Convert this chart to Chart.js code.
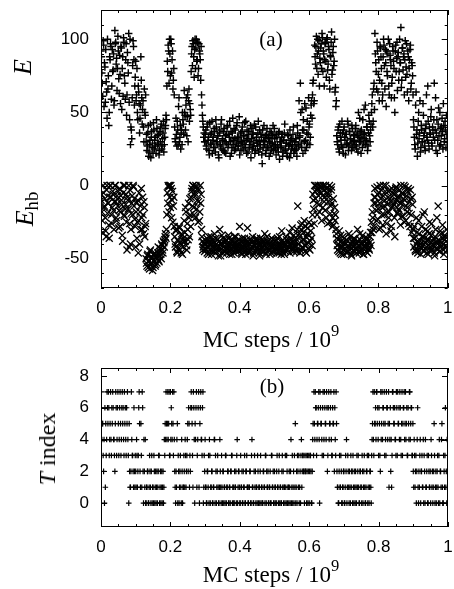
<!DOCTYPE html>
<html>
<head>
<meta charset="utf-8">
<script src="https://cdn.jsdelivr.net/npm/chart.js@4.4.1/dist/chart.umd.min.js"></script>
<style>
  html, body { margin: 0; padding: 0; background: #fff; }
  #wrap { position: relative; width: 454px; height: 589px; overflow: hidden;
          font-family: "Liberation Serif", "Times New Roman", serif; color: #000; }
  canvas { position: absolute; left: 0; }
  .lbl { position: absolute; white-space: nowrap; line-height: 1;
         transform: translate(-50%, -50%); }
  .rot { transform: translate(-50%, -50%) rotate(-90deg); }
  sup { font-size: 0.72em; line-height: 0; vertical-align: 0.62em; }
  sub { font-size: 0.72em; line-height: 0; vertical-align: -0.25em; font-style: normal; }
</style>
</head>
<body>
<div id="wrap">
  <canvas id="energyChart" width="454" height="345" style="top:0;width:454px;height:345px"></canvas>
  <canvas id="tempChart" width="454" height="244" style="top:345px;width:454px;height:244px"></canvas>

  <div class="lbl rot" style="left:23px;top:67px;font-size:26px;font-style:italic">E</div>
  <div class="lbl rot" style="left:25px;top:209px;font-size:26px;font-style:italic">E<sub>hb</sub></div>
  <div class="lbl" style="left:271px;top:39px;font-size:21px">(a)</div>
  <div class="lbl" style="left:271px;top:339px;font-size:23px">MC steps / 10<sup>9</sup></div>

  <div class="lbl rot" style="left:47px;top:449px;font-size:24px"><i>T</i> index</div>
  <div class="lbl" style="left:272px;top:386px;font-size:21px">(b)</div>
  <div class="lbl" style="left:271px;top:574px;font-size:23px">MC steps / 10<sup>9</sup></div>
</div>

<script>
// Samples stored every 0.0025 x 10^9 MC steps (400 per run); a second set of
// samples sits half a step later (the *Mid arrays).
const sampleStep = 0.0025;

// Total energy E of each stored conformation
const energy = [
  92, 77, 61, 96, 84, 57, 71, 46, 66, 41, 88, 97, 59, 93, 79, 55, 106, 98, 87, 80,
  92, 63, 76, 95, 52, 88, 101, 75, 59, 97, 62, 84, 104, 45, 28, 38, 60, 99, 86, 68,
  85, 62, 50, 68, 56, 46, 88, 60, 52, 40, 66, 48,
  30, 24, 36, 20, 28, 42, 33, 26, 22, 38, 31, 27, 45, 34, 29, 21, 37, 40, 25, 32, 44, 28, 39, 48,
  68, 78, 92, 100, 75, 97, 86, 66, 80,
  40, 30, 35, 44, 28, 60, 33, 25, 38, 50, 42,
  65, 48, 55, 34, 62, 58, 44, 52,
  78, 95, 99, 88, 93, 80, 100, 86, 75, 97, 90, 72,
  62, 48, 40, 36,
  30, 38, 25, 42, 33, 21, 35, 28, 44, 31, 26, 37, 23, 40, 29, 34, 19, 36, 27, 45,
  32, 24, 39, 30, 22, 35, 41, 28, 33, 20, 37, 26, 46, 31, 24, 38, 29, 43, 27, 33,
  21, 36, 30, 40, 25, 34, 28, 44, 22, 32, 37, 26, 30, 19, 39, 35, 27, 42, 24, 31,
  29, 36, 23, 38, 28, 33, 15, 26, 41, 30, 22, 35, 27, 32, 20, 37, 29, 25, 34, 24,
  39, 28, 21, 33, 26, 36, 18, 30, 27, 35, 23, 31, 42, 25, 29, 20, 34, 28, 38, 22,
  32, 27, 40, 24,
  24, 30, 20, 36, 27, 33, 70, 29, 52, 22, 38, 56, 31, 26, 44, 35, 40, 28, 48, 58,
  62, 72, 58, 88, 95, 80, 100, 92, 68, 84, 97, 104, 78, 90, 86, 98, 74, 101, 83, 93,
  66, 88, 105, 79, 95, 85, 64, 54,
  34, 28, 40, 23, 36, 31, 44, 26, 38, 33, 21, 35, 29, 42, 27, 37, 32, 24, 39, 30,
  35, 28, 41, 25, 34, 50, 30, 37, 22, 33, 45, 29, 36, 55, 31, 40, 27, 48, 34, 38,
  50, 62, 44, 70,
  104, 84, 66, 92, 76, 58, 95, 88, 70, 62, 100, 82, 93, 54, 78, 90, 68, 97, 86, 60,
  74, 92, 80, 50, 96, 87, 65, 91, 78, 84, 108, 72, 94, 88, 62, 99, 81, 76, 92, 58,
  86, 96, 70, 82,
  62, 40, 28, 55, 35, 20, 44, 32, 58, 26, 38, 30, 48, 36, 24, 42, 33, 68, 29, 40,
  35, 52, 27, 38, 45, 31, 60, 36, 22, 42, 34, 50, 28, 40, 37, 56, 30, 44, 26, 35
];
const energyMid = [
  88, 70, 99, 54, 81, 93, 64, 100, 75, 50, 86, 95, 68, 78, 90, 58, 97, 83, 65, 102,
  73, 89, 56, 94, 80, 61, 98, 70, 86, 48, 91, 77, 57, 100, 40, 32, 82, 95, 55, 74,
  58, 80, 45, 64, 36, 55, 72, 42, 58, 30, 50, 62,
  35, 27, 41, 23, 31, 19, 37, 29, 43, 25, 33, 22, 39, 28, 35, 24, 30, 42, 27, 36, 23, 33, 41, 45,
  85, 96, 70, 90, 100, 77, 92, 72, 62,
  32, 46, 27, 38, 54, 30, 41, 36, 28, 45, 35,
  50, 38, 60, 47, 30, 66, 56, 48,
  90, 82, 97, 74, 100, 94, 85, 98, 80, 92, 86, 95,
  55, 44, 33, 30,
  35, 27, 40, 31, 24, 43, 29, 36, 22, 33, 39, 26, 45, 30, 34, 21, 38, 28, 42, 25,
  31, 37, 23, 34, 29, 40, 26, 35, 44, 30, 22, 36, 28, 39, 32, 25, 41, 33, 27, 47,
  30, 24, 37, 29, 34, 43, 26, 31, 38, 23, 35, 28, 41, 32, 25, 36, 29, 22, 40, 33,
  27, 44, 30, 25, 35, 21, 38, 31, 28, 34, 24, 39, 26, 33, 30, 22, 36, 29, 41, 27,
  32, 25, 35, 28, 23, 37, 30, 26, 33, 20, 31, 36, 24, 29, 22, 35, 27, 19, 31, 25,
  28, 35, 22, 30,
  32, 25, 41, 28, 58, 34, 50, 26, 38, 45, 30, 24, 53, 36, 29, 60, 42, 33, 55, 46,
  70, 56, 96, 83, 102, 90, 76, 99, 87, 94, 80, 101, 92, 68, 97, 85, 100, 79, 95, 72,
  89, 98, 76, 91, 82, 100, 67, 58,
  30, 38, 25, 42, 33, 27, 36, 22, 40, 31, 35, 28, 44, 24, 37, 32, 29, 41, 26, 34,
  31, 39, 27, 36, 23, 33, 46, 30, 38, 26, 35, 52, 32, 28, 40, 24, 36, 44, 30, 42,
  56, 40, 66, 52,
  90, 78, 98, 64, 86, 72, 94, 80, 58, 88, 96, 66, 84, 92, 75, 100, 62, 89, 82, 70,
  95, 85, 60, 92, 78, 98, 88, 72, 100, 84, 67, 94, 79, 90, 86, 74, 97, 64, 88, 80,
  93, 66, 84, 75,
  45, 33, 25, 64, 38, 29, 50, 36, 23, 41, 30, 56, 34, 27, 39, 62, 31, 44, 25, 36,
  47, 29, 40, 33, 70, 38, 24, 45, 31, 53, 27, 39, 34, 46, 25, 41, 32, 38, 48, 30
];

// Hydrogen-bond energy E_hb of the same conformations
const hbEnergy = [
  -10, -18, -32, -5, -14, -22, -35, 0, -12, -27, -8, 0, -20, -15, -6, -30, 0, -11, -24, -9,
  -4, -17, -28, -7, -13, -38, 0, -21, -16, -6, -44, -10, 0, -26, -40, -19, -7, 0, -14, -23,
  -42, -12, -25, -46, -5, -18, -30, -22, -8, -33, -15, -28,
  -50, -55, -47, -52, -57, -44, -53, -49, -56, -51, -46, -54, -48, -50, -42, -52, -45, -47, -40, -44, -38, -42, -35, -36,
  -20, -12, -1, 0, -15, -2, -10, -25, -8,
  -35, -42, -30, -46, -38, -28, -44, -40, -33, -47, -36,
  -24, -38, -18, -44, -30, -12, -35, -20,
  -8, -2, 0, -15, -5, -22, -1, -10, -25, -3, -18, -12,
  -30, -38, -42, -40,
  -40, -44, -36, -42, -47, -38, -41, -35, -45, -39, -43, -33, -46, -40, -37, -44, -42, -30, -48, -39,
  -41, -36, -45, -43, -38, -46, -40, -34, -44, -42, -37, -47, -39, -41, -35, -43, -45, -38, -40, -44,
  -28, -42, -46, -36, -39, -43, -41, -47, -37, -29, -44, -40, -45, -38, -42, -35, -46, -41, -39, -43,
  -37, -44, -40, -48, -36, -42, -45, -39, -41, -33, -46, -43, -38, -44, -40, -47, -42, -36, -45, -39,
  -41, -43, -37, -46, -40, -44, -35, -42, -47, -38, -43, -41, -39, -45, -37, -44, -42, -40, -46, -36,
  -43, -39, -45, -41,
  -42, -38, -45, -14, -40, -35, -44, -30, -26, -43, -37, -41, -28, -46, -33, -39, -25, -44, -31, -36,
  -20, -10, -26, -4, 0, -12, -2, -7, -18, 0, -5, -1, -15, -3, -8, 0, -22, -2, -11, -6,
  -25, -14, -1, -28, -9, -19, -24, -30,
  -36, -44, -40, -31, -46, -38, -42, -35, -47, -39, -43, -37, -45, -41, -33, -44, -40, -48, -38, -42,
  -36, -45, -39, -43, -30, -41, -46, -37, -44, -40, -34, -47, -42, -38, -45, -36, -41, -43, -39, -32,
  -25, -18, -30, -12,
  -2, -12, -24, -6, -16, -30, 0, -9, -20, -27, 0, -14, -4, -33, -18, -8, -22, -3, -11, -28,
  -15, -5, -13, -35, -2, -10, -19, -7, -17, -12, 0, -21, -6, -9, -25, -1, -14, -18, -4, -26,
  -11, -3, -20, -8,
  -30, -42, -36, -45, -22, -38, -44, -33, -40, -47, -28, -41, -35, -18, -43, -39, -46, -31, -37, -25,
  -42, -34, -44, -40, -36, -48, -30, -39, -43, -14, -38, -45, -33, -41, -27, -44, -37, -35, -42, -30
];
const hbEnergyMid = [
  -6, -24, 0, -15, -9, -31, -3, -19, -12, -36, 0, -8, -26, -4, -17, -11, 0, -22, -7, -14,
  -29, -2, -18, -10, -34, -5, -20, 0, -13, -25, -8, -16, -42, -3, -30, -12, -20, -1, -9, -28,
  -18, -36, -10, -24, -40, -14, -2, -30, -20, -11, -35, -26,
  -53, -48, -56, -51, -45, -54, -50, -58, -47, -52, -55, -49, -53, -46, -51, -48, -43, -50, -41, -46, -39, -37, -33, -30,
  -5, 0, -18, -8, 0, -22, -4, -14, -28,
  -40, -31, -45, -37, -43, -29, -39, -46, -34, -42, -38,
  -32, -15, -41, -26, -37, -22, -9, -28,
  -4, -14, 0, -20, -7, 0, -16, -2, -11, -24, 0, -6,
  -35, -44, -39, -45,
  -43, -38, -46, -41, -35, -44, -40, -47, -37, -42, -45, -39, -36, -43, -41, -48, -38, -44, -40, -34,
  -46, -42, -39, -45, -37, -43, -41, -36, -47, -40, -44, -38, -42, -46, -39, -35, -43, -41, -45, -37,
  -40, -44, -47, -38, -42, -36, -45, -39, -43, -41, -46, -40, -37, -44, -42, -48, -38, -41, -45, -36,
  -43, -39, -46, -40, -44, -37, -42, -45, -38, -41, -47, -35, -43, -40, -44, -39, -46, -42, -37, -45,
  -41, -38, -44, -36, -42, -46, -40, -43, -31, -45, -39, -47, -41, -35, -44, -38, -42, -32, -40, -37,
  -29, -43, -34, -39,
  -36, -44, -30, -40, -33, -46, -27, -38, -42, -32, -24, -45, -35, -40, -29, -43, -34, -38, -27, -41,
  -6, -16, 0, -9, -3, -20, 0, -13, -4, -1, -24, -7, 0, -11, -17, -2, -5, -26, -8, 0,
  -19, -3, -12, -22, -27, -15, -20, -33,
  -41, -37, -45, -42, -34, -47, -39, -44, -36, -43, -40, -46, -38, -45, -42, -35, -47, -41, -39, -44,
  -37, -43, -46, -40, -38, -45, -33, -42, -44, -39, -47, -41, -36, -43, -40, -46, -38, -44, -35, -41,
  -32, -22, -28, -8,
  -8, -17, -1, -23, -5, -12, -29, -3, -15, -7, -20, -10, 0, -26, -13, -4, -18, -9, -31, -2,
  -14, -6, -22, -11, -1, -19, -8, -16, -3, -27, -12, -5, -21, 0, -10, -24, -7, -15, -2, -19,
  -28, -9, -32, -13,
  -36, -28, -44, -40, -32, -46, -24, -41, -38, -43, -35, -20, -45, -39, -30, -42, -37, -47, -33, -40,
  -44, -26, -38, -41, -46, -35, -43, -22, -40, -37, -45, -31, -42, -39, -36, -47, -34, -41, -38, -44
];

// Temperature index visited by the replica at each stored sample
const tIndex = [
  6, 4, 5, 2, 0, 1, 3, 7, 5, 6, 4, 7, 3, 5, 6, 4, 2, 7, 3, 6,
  5, 4, 7, 3, 6, 5, 4, 7, 6, 3, 5, 4, 0, 2, 1, 7, 3, 2, 6, 1,
  2, 4, 1, 3, 7, 2, 5, 1, 6, 0, 2, 4,
  0, 1, 2, 0, 3, 1, 2, 0, 1, 3, 0, 2, 1, 0, 2, 3, 1, 0, 2, 1, 0, 4, 5, 7,
  4, 7, 5, 3, 7, 6, 4, 5, 7,
  2, 0, 1, 5, 3, 0, 2, 1, 4, 0, 1,
  2, 4, 1, 3, 5, 6, 1, 2,
  7, 5, 1, 6, 0, 4, 7, 3, 6, 1, 5, 7,
  4, 6, 0, 3,
  4, 1, 0, 2, 3, 4, 0, 1, 2, 0, 1, 4, 3, 0, 2, 1, 0, 4, 1, 3,
  0, 2, 1, 0, 3, 1, 2, 0, 1, 0, 2, 3, 1, 0, 2, 1, 0, 4, 1, 2,
  0, 3, 1, 0, 2, 1, 0, 2, 3, 1, 0, 1, 2, 0, 4, 1, 0, 3, 2, 1,
  0, 2, 1, 0, 3, 1, 0, 2, 1, 0, 3, 2, 1, 0, 1, 2, 0, 3, 1, 0,
  2, 1, 0, 3, 1, 2, 0, 1, 0, 3, 2, 1, 0, 1, 3, 0, 1, 2, 0, 4,
  1, 0, 2, 3,
  5, 1, 0, 2, 3, 1, 0, 4, 2, 3, 2, 3, 2, 0, 3, 2, 0, 3, 2, 0,
  4, 3, 5, 7, 6, 4, 5, 7, 0, 6, 5, 3, 7, 4, 6, 5, 7, 2, 6, 4,
  5, 7, 3, 6, 5, 2, 4, 7,
  2, 1, 0, 3, 1, 2, 0, 1, 2, 0, 3, 4, 1, 2, 0, 1, 3, 2, 0, 1,
  2, 0, 1, 3, 2, 1, 0, 2, 1, 3, 0, 2, 1, 0, 2, 3, 1, 0, 2, 1,
  3, 5, 4, 7,
  5, 4, 7, 6, 3, 5, 2, 4, 7, 6, 5, 3, 4, 7, 6, 5, 1, 4, 2, 1,
  7, 6, 5, 4, 3, 6, 7, 5, 4, 6, 3, 7, 5, 6, 4, 7, 5, 3, 6, 4, 7, 5, 6, 3,
  2, 4, 1, 3, 2, 6, 0, 1, 4, 2, 3, 1, 0, 2, 4, 1, 3, 0, 2, 1,
  0, 3, 2, 1, 5, 0, 2, 1, 3, 0, 4, 2, 1, 5, 0, 3, 1, 6, 2, 4
];
const tIndexMid = [
  7, 5, 3, 4, 6, 5, 4, 6, 7, 3, 5, 4, 6, 7, 4, 3, 5, 6, 4, 7,
  3, 6, 5, 4, 7, 6, 3, 5, 4, 6, 7, 3, 5, 1, 2, 4, 3, 1, 2, 3,
  1, 3, 2, 6, 5, 1, 3, 7, 2, 4, 1, 0,
  1, 2, 0, 1, 2, 0, 3, 1, 0, 2, 1, 0, 2, 1, 3, 0, 2, 1, 0, 2, 1, 3, 4, 5,
  5, 4, 7, 3, 4, 5, 7, 3, 4,
  1, 2, 4, 0, 2, 1, 3, 0, 2, 1, 3,
  1, 3, 2, 4, 2, 5, 3, 6,
  6, 3, 7, 4, 5, 6, 1, 4, 7, 0, 6, 4,
  3, 7, 1, 2,
  1, 0, 2, 1, 0, 3, 1, 2, 0, 1, 4, 0, 2, 1, 3, 0, 1, 2, 0, 1,
  2, 0, 1, 3, 0, 1, 2, 0, 1, 2, 3, 0, 1, 0, 1, 2, 3, 0, 2, 1,
  0, 1, 2, 0, 1, 3, 0, 2, 1, 0, 1, 2, 0, 3, 1, 0, 2, 1, 0, 1,
  3, 0, 1, 2, 0, 1, 0, 2, 1, 3, 0, 1, 2, 0, 1, 0, 3, 1, 2, 0,
  1, 0, 2, 1, 0, 3, 1, 0, 2, 1, 0, 1, 3, 0, 2, 1, 0, 1, 2, 0,
  3, 1, 0, 1,
  0, 2, 3, 1, 0, 2, 3, 1, 3, 2, 0, 2, 3, 2, 0, 3, 2, 3, 0, 2,
  5, 7, 4, 6, 3, 5, 6, 4, 7, 5, 4, 6, 3, 7, 5, 4, 6, 3, 7, 5,
  6, 4, 3, 5, 7, 6, 3, 5,
  1, 0, 2, 1, 3, 0, 1, 2, 0, 1, 2, 0, 3, 1, 2, 0, 1, 2, 3, 0,
  1, 2, 0, 1, 3, 0, 2, 1, 0, 2, 1, 3, 0, 1, 2, 0, 3, 1, 2, 0,
  4, 7, 3, 5,
  6, 7, 5, 4, 6, 3, 7, 5, 4, 6, 7, 5, 3, 6, 4, 7, 5, 6, 4, 3,
  7, 5, 6, 4, 7, 3, 5, 6, 7, 4, 5, 3, 6, 7, 5, 4, 6, 3, 5, 7, 4, 6, 3, 5,
  1, 3, 2, 0, 4, 1, 2, 3, 0, 2, 1, 4, 3, 0, 1, 2, 0, 3, 1, 2,
  4, 1, 0, 2, 3, 1, 0, 2, 1, 3, 0, 2, 4, 1, 0, 2, 3, 1, 0, 2
];

// Axis tick labels
const stepTickLabels = ['0', '0.2', '0.4', '0.6', '0.8', '1'];
const energyTickLabels = [-50, 0, 50, 100];
const tempTickLabels = [0, 2, 4, 6, 8];

const toPoints = (values, offset) => values.map((v, i) => ({ x: (i + offset) * sampleStep, y: v }));
const bothSets = (main, mid) => toPoints(main, 0).concat(toPoints(mid, 0.5));
const near = (a, b) => Math.abs(a - b) < 1e-6;

// gnuplot-style tick marks pointing into the frame on all four sides
const innerTicks = {
  id: 'innerTicks',
  afterDatasetsDraw(chart, args, opts) {
    const { ctx, chartArea: a } = chart;
    const xs = chart.scales.x, ys = chart.scales.y;
    ctx.save();
    ctx.strokeStyle = '#000';
    ctx.lineWidth = 1;
    ctx.beginPath();
    xs.ticks.forEach(t => {
      const major = stepTickLabels.some(l => near(Number(l), t.value));
      const len = major ? 5 : 3;
      const px = Math.round(xs.getPixelForValue(t.value)) + 0.5;
      ctx.moveTo(px, a.bottom); ctx.lineTo(px, a.bottom - len);
      ctx.moveTo(px, a.top); ctx.lineTo(px, a.top + len);
    });
    ys.ticks.forEach(t => {
      const major = opts.yMajor(t.value);
      const len = major ? 6 : 3;
      const py = Math.round(ys.getPixelForValue(t.value)) + 0.5;
      ctx.moveTo(a.left, py); ctx.lineTo(a.left + len, py);
      ctx.moveTo(a.right, py); ctx.lineTo(a.right - len, py);
    });
    ctx.stroke();
    ctx.strokeRect(Math.round(a.left) + 0.5, Math.round(a.top) + 0.5,
                   Math.round(a.right - a.left) - 1, Math.round(a.bottom - a.top) - 1);
    ctx.restore();
  }
};

const tickFont = { family: '"Liberation Sans", Arial, sans-serif', size: 17 };

function xAxis(height) {
  return {
    type: 'linear', min: 0, max: 1,
    grid: { display: false, drawTicks: false },
    border: { display: false },
    ticks: {
      stepSize: 0.05, autoSkip: false, maxRotation: 0, padding: 10,
      color: '#000', font: tickFont,
      callback: (v) => {
        const l = stepTickLabels.find(s => near(Number(s), v));
        return l === undefined ? '' : l;
      }
    },
    afterFit: (s) => { s.height = height; s.paddingLeft = 0; s.paddingRight = 0; }
  };
}

function yAxis(min, max, tickValues, labels) {
  return {
    type: 'linear', min, max,
    grid: { display: false, drawTicks: false },
    border: { display: false },
    ticks: {
      autoSkip: false, padding: 12,
      color: '#000', font: tickFont,
      callback: (v) => (labels.some(l => near(l, v)) ? String(v) : '')
    },
    afterBuildTicks: (s) => { s.ticks = tickValues.map(v => ({ value: v })); },
    afterFit: (s) => { s.width = 101; s.paddingTop = 0; s.paddingBottom = 0; }
  };
}

// Energy axis: a tick every 10 units from -70 to 120
const energyTicks = [-70, -60, -50, -40, -30, -20, -10, 0, 10, 20, 30, 40, 50, 60, 70, 80, 90, 100, 110, 120];

const common = {
  responsive: false,
  animation: false,
  events: [],
  plugins: { legend: { display: false }, tooltip: { enabled: false } }
};

new Chart(document.getElementById('energyChart'), {
  type: 'scatter',
  data: {
    datasets: [
      { label: 'E', data: bothSets(energy, energyMid), pointStyle: 'cross', radius: 3.7,
        borderColor: '#000', borderWidth: 1.45, backgroundColor: '#000' },
      { label: 'E_hb', data: bothSets(hbEnergy, hbEnergyMid), pointStyle: 'crossRot', radius: 5,
        borderColor: '#000', borderWidth: 1.3, backgroundColor: '#000' }
    ]
  },
  options: {
    ...common,
    layout: { padding: { top: 10, right: 6, left: 0, bottom: 0 } },
    scales: {
      x: xAxis(57),
      y: yAxis(-70, 120, energyTicks, energyTickLabels)
    },
    plugins: {
      ...common.plugins,
      innerTicks: { yMajor: (v) => near(v % 50, 0) }
    }
  },
  plugins: [innerTicks]
});

new Chart(document.getElementById('tempChart'), {
  type: 'scatter',
  data: {
    datasets: [
      { label: 'T index', data: bothSets(tIndex, tIndexMid), pointStyle: 'cross', radius: 2.8,
        borderColor: '#000', borderWidth: 1.2, backgroundColor: '#000' }
    ]
  },
  options: {
    ...common,
    layout: { padding: { top: 23, right: 6, left: 0, bottom: 0 } },
    scales: {
      x: xAxis(62),
      y: yAxis(-1.5, 8.5, tempTickLabels, tempTickLabels)
    },
    plugins: {
      ...common.plugins,
      innerTicks: { yMajor: () => true }
    }
  },
  plugins: [innerTicks]
});
</script>
</body>
</html>
